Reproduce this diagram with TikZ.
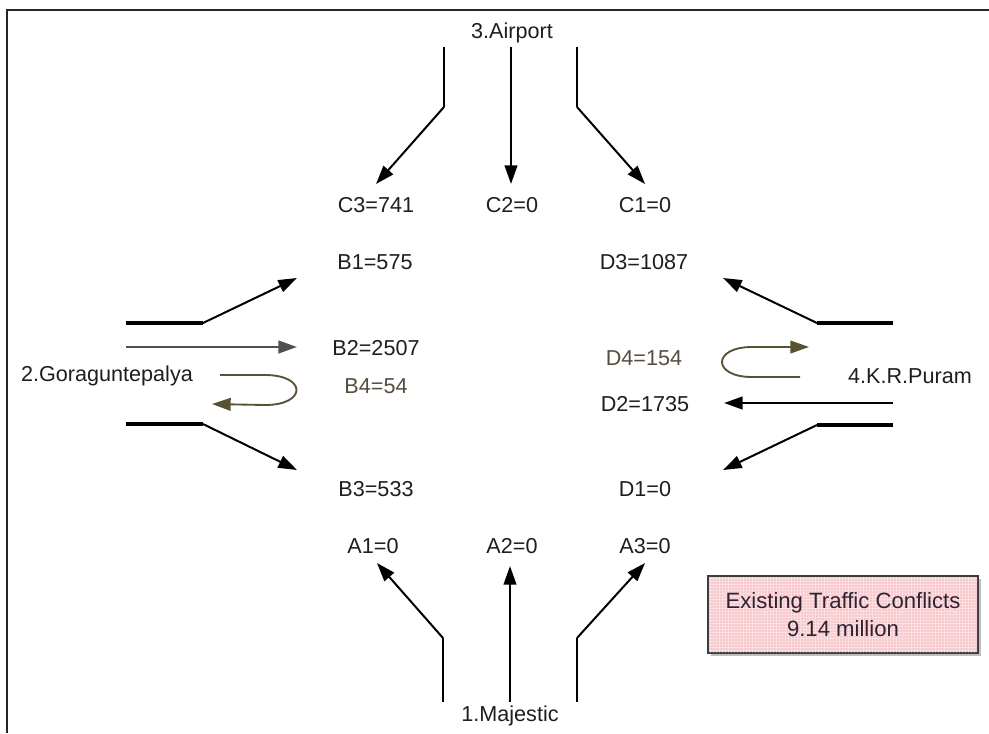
\documentclass[tikz,border=0pt]{standalone}
\usepackage{fontspec}
\setmainfont{Liberation Sans}
\usetikzlibrary{arrows.meta}
\definecolor{txt}{RGB}{30,30,30}
\definecolor{uturn}{RGB}{88,82,50}
\definecolor{utxt}{RGB}{85,78,60}
\definecolor{boxfill}{RGB}{248,200,205}
\definecolor{boxline}{RGB}{60,60,60}
\definecolor{midgray}{RGB}{80,80,80}
\tikzset{
  lbl/.style={font=\fontsize{16.2}{19}\selectfont, text=txt, inner sep=1pt},
  ulbl/.style={lbl, text=utxt},
  flow/.style={draw=black, line width=1.5pt, -{Triangle[length=14pt,width=9.5pt]}},
  road/.style={draw=black, line width=2.3pt},
  roadv/.style={draw=black, line width=1.7pt},
  uflow/.style={draw=uturn, line width=1.4pt, -{Triangle[length=14pt,width=9.5pt]}},
}
\begin{document}
\begin{tikzpicture}[x=0.75pt,y=-0.75pt]
\useasboundingbox (0,0) rectangle (989,733);
\fill[white] (0,0) rectangle (989,733);
% frame
\draw[line width=2pt, black!85] (7,733) -- (7,10) -- (989,10);

% approach names
\node[lbl] (airport) at (512,33) {3.Airport};
\node[lbl] (majestic) at (510,716) {1.Majestic};
\node[lbl] (gora) at (107,376) {2.Goraguntepalya};
\node[lbl] (krp) at (910,376) {4.K.R.Puram};

% movement labels
\node[lbl] (C3) at (376,205) {C3=741};
\node[lbl] (C2) at (512,205) {C2=0};
\node[lbl] (C1) at (645,205) {C1=0};
\node[lbl] (B1) at (375,262) {B1=575};
\node[lbl] (D3) at (644,262) {D3=1087};
\node[lbl] (B2) at (376,348) {B2=2507};
\node[ulbl] (D4) at (644,358) {D4=154};
\node[ulbl] (B4) at (376,386) {B4=54};
\node[lbl] (D2) at (645,404) {D2=1735};
\node[lbl] (B3) at (376,489) {B3=533};
\node[lbl] (D1) at (645,489) {D1=0};
\node[lbl] (A1) at (373,546) {A1=0};
\node[lbl] (A2) at (512,546) {A2=0};
\node[lbl] (A3) at (645,546) {A3=0};

% coordinates: top approach
\coordinate (t1s) at (444,47);  \coordinate (t1k) at (444,107); \coordinate (t1e) at (376,184);
\coordinate (t2s) at (511,47);  \coordinate (t2e) at (511,184);
\coordinate (t3s) at (577,47);  \coordinate (t3k) at (577,107); \coordinate (t3e) at (645,184);
% bottom approach
\coordinate (b1s) at (443,702); \coordinate (b1k) at (443,638); \coordinate (b1e) at (377,563);
\coordinate (b2s) at (510,702); \coordinate (b2e) at (510,566);
\coordinate (b3s) at (577,702); \coordinate (b3k) at (577,638); \coordinate (b3e) at (645,563);
% left approach
\coordinate (l1s) at (126,323); \coordinate (l1k) at (203,323); \coordinate (l1e) at (297,278);
\coordinate (l2s) at (126,347); \coordinate (l2e) at (297,347);
\coordinate (l3s) at (126,424); \coordinate (l3k) at (203,424); \coordinate (l3e) at (297,470);
\coordinate (lus) at (220,375); \coordinate (lue) at (212,404);
% right approach
\coordinate (r1s) at (893,323); \coordinate (r1k) at (817,323); \coordinate (r1e) at (723,278);
\coordinate (r2s) at (893,403); \coordinate (r2e) at (724,403);
\coordinate (r3s) at (893,425); \coordinate (r3k) at (817,425); \coordinate (r3e) at (723,470);
\coordinate (rus) at (800,377); \coordinate (rue) at (809,347);

% top arrows
\draw[roadv] (t1s) -- (t1k);
\draw[flow] (t1k) -- (t1e);
\draw[flow] (t2s) -- (t2e);
\draw[roadv] (t3s) -- (t3k);
\draw[flow] (t3k) -- (t3e);
% bottom arrows
\draw[roadv] (b1s) -- (b1k);
\draw[flow] (b1k) -- (b1e);
\draw[flow] (b2s) -- (b2e);
\draw[roadv] (b3s) -- (b3k);
\draw[flow] (b3k) -- (b3e);
% left arrows
\draw[road] (l1s) -- (l1k);
\draw[flow] (l1k) -- (l1e);
\draw[flow, draw=midgray, line width=1.7pt] (l2s) -- (l2e);
\draw[road] (l3s) -- (l3k);
\draw[flow] (l3k) -- (l3e);
\draw[uflow] (lus) -- (265,375) .. controls (307,375) and (307,405) .. (265,405) -- (lue);
% right arrows
\draw[road] (r1s) -- (r1k);
\draw[flow] (r1k) -- (r1e);
\draw[flow, line width=1.7pt] (r2s) -- (r2e);
\draw[road] (r3s) -- (r3k);
\draw[flow] (r3k) -- (r3e);
\draw[uflow] (rus) -- (752,377) .. controls (712,377) and (712,347) .. (752,347) -- (rue);

% conflict box
\fill[black!25] (711,579) rectangle (981,656);
\draw[boxline, line width=1.3pt, fill=boxfill] (708,576) rectangle (978,653);
\begin{scope}
\clip (709,577) rectangle (977,652);
\foreach \gx in {710,713,...,978} {\draw[white, opacity=0.35, line width=0.5pt] (\gx,576) -- (\gx,653);}
\foreach \gy in {578,581,...,653} {\draw[white, opacity=0.35, line width=0.5pt] (708,\gy) -- (978,\gy);}
\end{scope}
\node[lbl, font=\fontsize{16.6}{19}\selectfont, align=center, text={rgb,255:red,45;green,35;blue,50}] (conf) at (843,615) {Existing Traffic Conflicts\\[2pt]9.14 million};
\end{tikzpicture}
\end{document}
